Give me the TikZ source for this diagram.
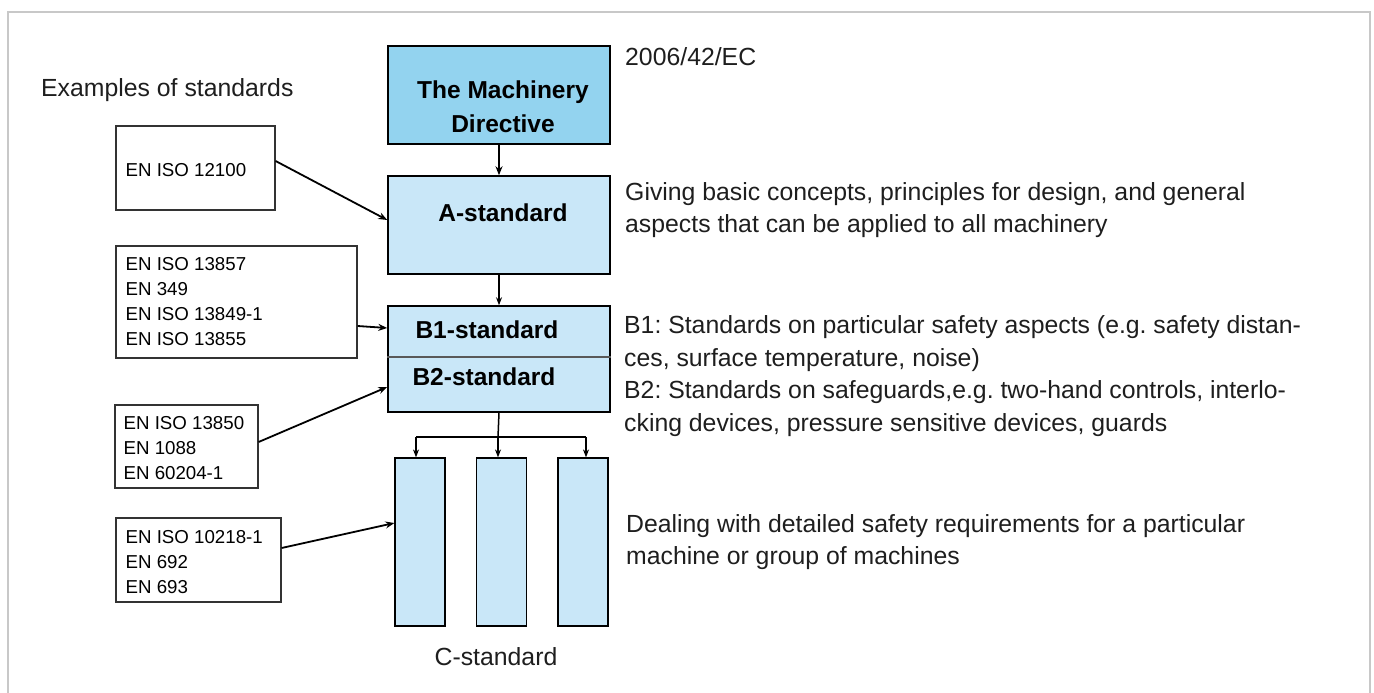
\documentclass[tikz,border=0pt]{standalone}
\usepackage{fontspec}
\setmainfont{Liberation Sans}
\usetikzlibrary{arrows.meta,calc}
\frenchspacing
\definecolor{mdblue}{HTML}{93D3EF}
\definecolor{lblue}{HTML}{C9E7F8}
\definecolor{framegray}{HTML}{C8C8C8}
\definecolor{txt}{HTML}{1E1E1E}
\tikzset{
  mainbox/.style={draw=black, line width=1.5pt, fill=lblue, inner sep=0pt},
  exbox/.style={draw=black!80, line width=1.2pt, fill=white, inner sep=0pt},
  extext/.style={anchor=west, align=left, inner sep=0pt, font=\fontsize{18.7}{25}\selectfont},
  boldlbl/.style={font=\fontsize{24.5}{34}\selectfont\bfseries, align=center, inner sep=0pt},
  desc/.style={font=\fontsize{24.8}{32.7}\selectfont, text=txt, align=left, inner sep=0pt},
  arr/.style={-{Stealth[length=9pt,width=7pt]}, line width=1.8pt},
  thinarr/.style={-{Stealth[length=8pt,width=6pt]}, line width=1.2pt}
}
\begin{document}
\begin{tikzpicture}[x=1pt,y=-1pt]
\useasboundingbox (0,0) rectangle (1374,693);
% outer frame
\draw[framegray, line width=2pt] (8,693) -- (8,12.5) -- (1370,12.5) -- (1370,693);

% main column
\node[mainbox, fill=mdblue, minimum width=222pt, minimum height=98pt] (md) at (499,95) {};
\node[boldlbl] (mdl) at (503,107) {The Machinery\\Directive};
\node[mainbox, minimum width=222pt, minimum height=98pt] (a) at (499,225) {};
\node[boldlbl] (al) at (503,213) {A-standard};
\node[mainbox, minimum width=222pt, minimum height=106pt] (b) at (499,359) {};
\draw[black!65, line width=1.5pt] (b.west |- 0,357) coordinate (bdl) -- (b.east |- 0,357) coordinate (bdr);
\node[boldlbl] (b1l) at (487,330) {B1-standard};
\node[boldlbl] (b2l) at (484,377) {B2-standard};

% C columns
\node[mainbox, line width=1.2pt, minimum width=50pt, minimum height=168pt] (c1) at (420,542) {};
\node[mainbox, line width=1.2pt, minimum width=50pt, minimum height=168pt] (c2) at (501.5,542) {};
\node[mainbox, line width=1.2pt, minimum width=50pt, minimum height=168pt] (c3) at (583,542) {};
\node[desc, anchor=center] (cl) at (496,657) {C-standard};

% vertical connectors
\draw[arr, line width=2.2pt] (md.south) -- (a.north);
\draw[thinarr] (a.south) -- (b.north);
\coordinate (split) at (498,437);
\draw[line width=1.5pt] (b.south) -- (split);
\draw[line width=1.5pt] (416,437) coordinate (sl) -- (586,437) coordinate (sr);
\draw[thinarr, line width=1.5pt] (split) -- (split |- c2.north);
\draw[thinarr, line width=1.5pt] (sl) -- (sl |- c1.north);
\draw[thinarr, line width=1.5pt] (sr) -- (sr |- c3.north);

% examples
\node[desc, anchor=west] (exh) at (41,90) {Examples of standards};
\node[exbox, minimum width=159pt, minimum height=84pt] (e1) at (195.5,168) {};
\node[extext] (e1t) at ([xshift=10pt,yshift=-2pt]e1.west) {EN ISO 12100};
\node[exbox, minimum width=241pt, minimum height=112pt] (e2) at (236.5,302) {};
\node[extext] (e2t) at ([xshift=10pt]e2.west) {EN ISO 13857\\EN 349\\EN ISO 13849-1\\EN ISO 13855};
\node[exbox, minimum width=143pt, minimum height=83pt] (e3) at (186.5,446.5) {};
\node[extext] (e3t) at ([xshift=9pt,yshift=-2pt]e3.west) {EN ISO 13850\\EN 1088\\EN 60204-1};
\node[exbox, minimum width=165pt, minimum height=84pt] (e4) at (198.5,560) {};
\node[extext] (e4t) at ([xshift=10pt,yshift=-2.5pt]e4.west) {EN ISO 10218-1\\EN 692\\EN 693};

\draw[arr] ([yshift=7pt]e1.east) -- ([yshift=5pt]a.west);
\draw[arr] ([yshift=-24pt]e2.east) -- ([yshift=31pt]b.west);
\draw[arr] ([yshift=4.5pt]e3.east) -- ([yshift=-28pt]b.west);
\draw[arr] ([yshift=12pt]e4.east) -- ([yshift=19pt]c1.west);

% descriptions
\node[desc, anchor=west] (dmd) at (625,57) {2006/42/EC};
\node[desc, anchor=west] (da) at (625,210) {Giving basic concepts, principles for design, and general\\aspects that can be applied to all machinery};
\node[desc, anchor=west] (db) at (624,376) {B1: Standards on particular safety aspects (e.g. safety distan-\\ces, surface temperature, noise)\\B2: Standards on safeguards,e.g. two-hand controls, interlo-\\cking devices, pressure sensitive devices, guards};
\node[desc, anchor=west] (dc) at (626,542) {Dealing with detailed safety requirements for a particular\\machine or group of machines};
\end{tikzpicture}
\end{document}
